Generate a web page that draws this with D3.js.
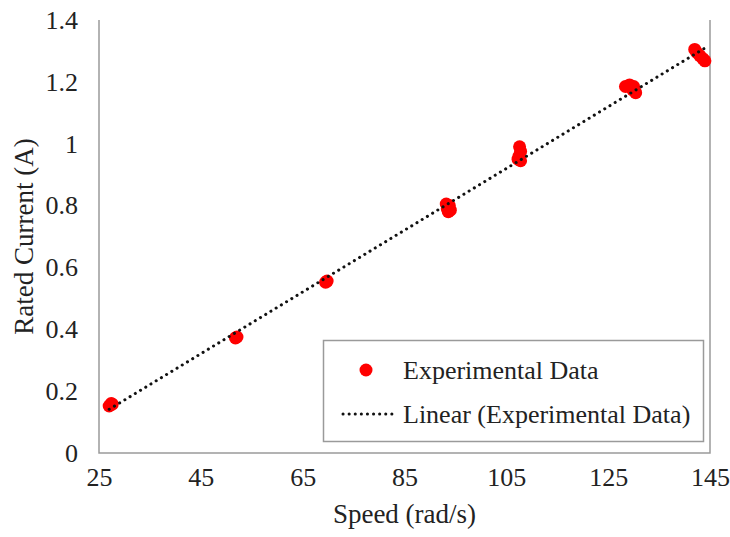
<!DOCTYPE html>
<html><head><meta charset="utf-8">
<script src="https://cdn.jsdelivr.net/npm/d3@7"></script>
<style>body{margin:0;background:#fff}svg{display:block}text{font-family:"Liberation Serif","Times New Roman",serif;fill:#222}</style>
</head><body><svg id="c" width="730" height="537"></svg>
<script>
const speed = [27.0,27.4,27.6, 51.8,52.1, 69.5,69.8, 93.2,93.8,93.4,93.6,94.0, 107.6,107.8,107.5,107.3,107.8, 128.4,129.2,130.0,130.2,130.4,129.8, 142.0,142.4,143.0,143.6,144.0];
const current = [0.152,0.160,0.158, 0.372,0.375, 0.552,0.556, 0.805,0.800,0.790,0.780,0.785, 0.990,0.975,0.960,0.950,0.945, 1.185,1.190,1.185,1.170,1.165,1.175, 1.305,1.295,1.285,1.275,1.268];
const xTicks = [25,45,65,85,105,125,145];
const yTicks = [0,0.2,0.4,0.6,0.8,1,1.2,1.4];
const seriesName = "Experimental Data";
const trendName = "Linear (Experimental Data)";

const svg = d3.select("#c");
const m = {l:99, r:20, t:20, b:84};
const W = 730, H = 537;
const x = d3.scaleLinear().domain([25,145]).range([m.l, W-m.r]);
const y = d3.scaleLinear().domain([0,1.4]).range([H-m.b, m.t]);
const fs = 26;

// frame
svg.append("path").attr("d", `M${x(25)},${y(1.4)}V${y(0)}H${x(145)}V${y(1.4)}`)
  .attr("fill","none").attr("stroke","#9a9a9a").attr("stroke-width",1.5);

// axes
const xa = svg.append("g").attr("transform",`translate(0,${y(0)})`)
  .call(d3.axisBottom(x).tickValues(xTicks).tickSize(0).tickPadding(15).tickFormat(d3.format("d")));
const ya = svg.append("g").attr("transform",`translate(${m.l},0)`)
  .call(d3.axisLeft(y).tickValues(yTicks).tickSize(0).tickPadding(21).tickFormat(d=>String(+d.toFixed(1))));
[xa,ya].forEach(a=>{a.select(".domain").remove();a.selectAll("text").attr("font-size",fs).attr("font-family","Liberation Serif").attr("fill","#222");});
xa.selectAll("text").attr("dy","0.71em");

// titles
svg.append("text").attr("x", (x(25)+x(145))/2).attr("y", 523).attr("text-anchor","middle").attr("font-size",fs+1).text("Speed (rad/s)");
svg.append("text").attr("transform",`translate(33,${(y(0)+y(1.4))/2}) rotate(-90)`).attr("text-anchor","middle").attr("font-size",fs+1).text("Rated Current (A)");

// trendline (least squares)
const n = speed.length, mx = d3.mean(speed), my = d3.mean(current);
let sxy=0,sxx=0; for(let i=0;i<n;i++){sxy+=(speed[i]-mx)*(current[i]-my);sxx+=(speed[i]-mx)**2;}
const slope = sxy/sxx, icpt = my - slope*mx;
const xe = d3.extent(speed);
const line = d3.line().x(d=>x(d)).y(d=>y(slope*d+icpt));

// points
svg.append("g").selectAll("circle").data(speed).join("circle")
  .attr("cx",(d)=>x(d)).attr("cy",(d,i)=>y(current[i])).attr("r",6.5).attr("fill","#ff0000");

svg.append("path").datum(xe).attr("d",line).attr("fill","none").attr("stroke","#111")
  .attr("stroke-width",3).attr("stroke-linecap","round").attr("stroke-dasharray","0.1,6");

// legend
const lg = svg.append("g");
lg.append("rect").attr("x",323.5).attr("y",340.5).attr("width",380).attr("height",101)
  .attr("fill","#fff").attr("stroke","#9a9a9a").attr("stroke-width",1.5);
lg.append("circle").attr("cx",366).attr("cy",370).attr("r",6.5).attr("fill","#ff0000");
lg.append("text").attr("x",403).attr("y",379).attr("font-size",fs).text(seriesName);
lg.append("line").attr("x1",343).attr("x2",392).attr("y1",414).attr("y2",414).attr("stroke","#111")
  .attr("stroke-width",3).attr("stroke-linecap","round").attr("stroke-dasharray","0.1,6");
lg.append("text").attr("x",403).attr("y",423).attr("font-size",fs).text(trendName);
</script></body></html>
